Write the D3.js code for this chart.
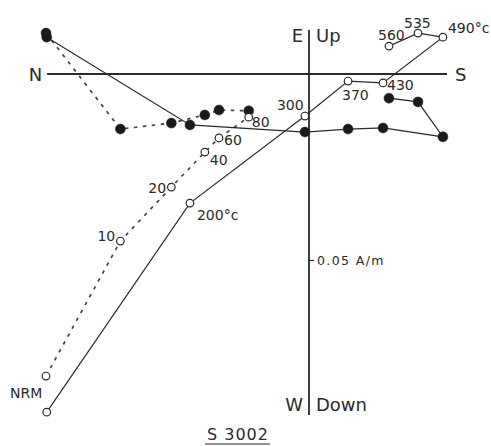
<!DOCTYPE html>
<html>
<head>
<meta charset="utf-8">
<script src="https://cdn.jsdelivr.net/npm/d3@7/dist/d3.min.js"></script>
<style>
  html, body { margin: 0; padding: 0; background: #fff; }
  svg { display: block; }
  text { font-family: "DejaVu Sans", sans-serif; fill: #2a2a2a; }
</style>
</head>
<body>
<svg id="chart" width="491" height="446"></svg>
<script>
// ---- Data (A/m) ----
// AF demagnetisation steps (mT), dashed
const afSteps = ["NRM", "10", "20", "40", "60", "80"];
const afNS    = [-0.0707, -0.0507, -0.0370, -0.0280, -0.0242, -0.0162];   // N(-) / S(+)
const afEW    = [ 0.0110, -0.0148, -0.0132, -0.0110, -0.0097, -0.0099];   // horizontal: E(+) / W(-)
const afUD    = [-0.0812, -0.0449, -0.0304, -0.0210, -0.0172, -0.0116];   // vertical: Up(+) / Down(-)

// Thermal demagnetisation steps (°C), solid
const thSteps = ["NRM", "200°c", "300", "370", "430", "490°c", "535", "560"];
const thNS    = [-0.0705, -0.0320, -0.0011, 0.0105, 0.0199, 0.0360, 0.0293, 0.0215];
const thEW    = [ 0.0099, -0.0137, -0.0156, -0.0148, -0.0145, -0.0169, -0.0075, -0.0065];
const thUD    = [-0.0909, -0.0347, -0.0113, -0.0019, -0.0024, 0.0099, 0.0110, 0.0075];

const axisLabels = { left: "N", right: "S", topL: "E", topR: "Up", botL: "W", botR: "Down" };
const scaleTick = [-0.05];
const scaleTickLabel = "0.05 A/m";
const title = "S 3002";

// ---- Scales ----
const svg = d3.select("#chart");
const x = d3.scaleLinear().domain([0, 0.05]).range([309, 495]);
const y = d3.scaleLinear().domain([0, 0.05]).range([74, -112]);

const ink = "#2a2a2a";

// axes
const hExt = [-0.0704, 0.0371];
const vExt = [0.0118, -0.0917];
svg.append("line").attr("x1", x(hExt[0])).attr("x2", x(hExt[1]))
  .attr("y1", y(0)).attr("y2", y(0)).attr("stroke", ink).attr("stroke-width", 1.8);
svg.append("line").attr("x1", x(0)).attr("x2", x(0))
  .attr("y1", y(vExt[0])).attr("y2", y(vExt[1])).attr("stroke", ink).attr("stroke-width", 1.8);

// scale tick via d3 axis
const tickAxis = d3.axisRight(y).tickValues(scaleTick).tickSize(5).tickPadding(3)
  .tickFormat(() => scaleTickLabel);
const gt = svg.append("g").attr("transform", `translate(${x(0)},0)`).call(tickAxis);
gt.select(".domain").remove();
gt.selectAll("line").attr("stroke", ink).attr("stroke-width", 1.2);
gt.selectAll("text").attr("font-size", 12.5).attr("letter-spacing", 1.4)
  .attr("font-family", "DejaVu Sans").attr("fill", ink).attr("dy", "0.38em");

// axis labels
const big = 18;
svg.append("text").attr("x", x(hExt[0]) - 5).attr("y", y(0) + 7).attr("text-anchor", "end")
  .attr("font-size", big).text(axisLabels.left);
svg.append("text").attr("x", x(hExt[1]) + 8).attr("y", y(0) + 7)
  .attr("font-size", big).text(axisLabels.right);
svg.append("text").attr("x", x(0) - 6).attr("y", 42).attr("text-anchor", "end")
  .attr("font-size", big).text(axisLabels.topL);
svg.append("text").attr("x", x(0) + 7).attr("y", 42)
  .attr("font-size", big).text(axisLabels.topR);
svg.append("text").attr("x", x(0) - 6).attr("y", 411).attr("text-anchor", "end")
  .attr("font-size", big).text(axisLabels.botL);
svg.append("text").attr("x", x(0) + 7).attr("y", 411)
  .attr("font-size", big).text(axisLabels.botR);

// series helpers
function pts(ns, v) { return ns.map((d, i) => [x(d), y(v[i])]); }
const line = d3.line();

function drawPath(p, dashed) {
  svg.append("path").attr("d", line(p)).attr("fill", "none")
    .attr("stroke", dashed ? "#444" : ink).attr("stroke-width", dashed ? 1.7 : 1.2)
    .attr("stroke-dasharray", dashed ? "3.5,5.5" : null);
}
function drawDots(p, open) {
  svg.selectAll(null).data(p).enter().append("circle")
    .attr("cx", d => d[0]).attr("cy", d => d[1])
    .attr("r", open ? 3.8 : 5)
    .attr("fill", open ? "#fff" : "#1a1a1a")
    .attr("stroke", ink).attr("stroke-width", open ? 1.2 : 0.5);
}

const afH = pts(afNS, afEW), afV = pts(afNS, afUD);
const thH = pts(thNS, thEW), thV = pts(thNS, thUD);

drawPath(afH, true); drawPath(afV, true);
drawPath(thH, false); drawPath(thV, false);
drawDots(afH, false); drawDots(thH, false);
drawDots(afV, true); drawDots(thV, true);

// step labels (on vertical-projection points)
const fs = 14;
const afOff = { "NRM": [-36, 22], "10": [-23, 0], "20": [-23, 6], "40": [5, 13], "60": [5, 7], "80": [3, 10] };
const thOff = { "NRM": [], "200°c": [7, 17], "300": [-28, -6], "370": [-6, 19], "430": [4, 7], "490°c": [5, -4], "535": [-14, -5], "560": [-11, -6] };
afSteps.forEach((s, i) => {
  const o = afOff[s];
  svg.append("text").attr("x", afV[i][0] + o[0]).attr("y", afV[i][1] + o[1])
    .attr("font-size", fs).text(s);
});
thSteps.forEach((s, i) => {
  const o = thOff[s];
  if (!o || o.length === 0) return;
  svg.append("text").attr("x", thV[i][0] + o[0]).attr("y", thV[i][1] + o[1])
    .attr("font-size", fs).text(s);
});

// title
const tt = svg.append("text").attr("x", 238).attr("y", 440).attr("text-anchor", "middle")
  .attr("font-size", 16).attr("letter-spacing", 1).text(title);
const bb = tt.node().getBBox();
svg.append("line").attr("x1", bb.x - 2).attr("x2", bb.x + bb.width + 1)
  .attr("y1", 444).attr("y2", 444).attr("stroke", ink).attr("stroke-width", 1.2);
</script>
</body>
</html>
